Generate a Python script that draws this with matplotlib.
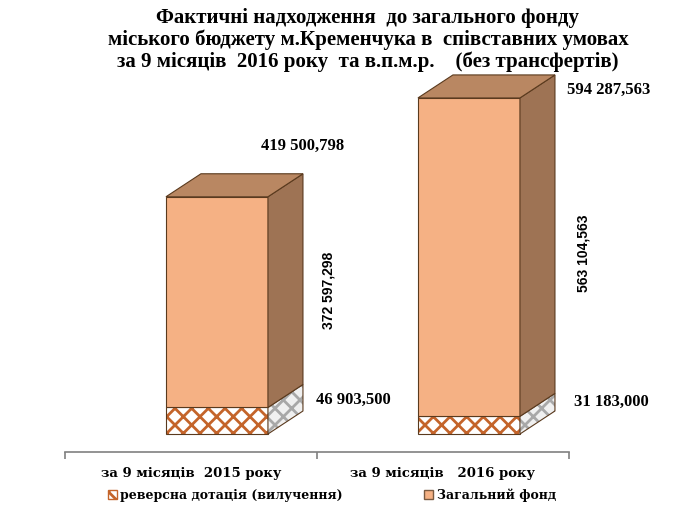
import numpy as np
import matplotlib.pyplot as plt
from matplotlib.patches import Polygon, Patch

# values in thousands UAH
categories = ['за 9 місяців  2015 року', 'за 9 місяців   2016 року']
reverse_dotation = [46903.500, 31183.000]
general_fund = [372597.298, 563104.563]
totals = [419500.798, 594287.563]

title = ('Фактичні надходження  до загального фонду\n'
         'міського бюджету м.Кременчука в  співставних умовах\n'
         'за 9 місяців  2016 року  та в.п.м.р.    (без трансфертів)')
legend_labels = ['реверсна дотація (вилучення)', 'Загальний фонд']

front_col = '#F5B184'
side_col = '#9E7354'
top_col = '#B98762'
edge_col = '#5A3A1E'
hatch_col = '#C4642A'


def fmt(v):
    return f'{v:,.3f}'.replace(',', ' ').replace('.', ',')


plt.rcParams['hatch.linewidth'] = 2.0

fig = plt.figure(figsize=(6.87, 5.28), dpi=100)
ax = fig.add_axes([65 / 687, 76 / 528, 504 / 687, 392 / 528])

ky = 0.5655e-3          # pixels per thousand
ax.set_xlim(-0.5, 1.5)
ax.set_ylim(-18 / ky, 374 / ky)

w = 102 / 252
off = 0.103
dx = 35 / 252
dy = 23 / ky

x = np.arange(len(categories)) + off
ax.bar(x, reverse_dotation, w, color='white', hatch='xx', edgecolor=hatch_col, lw=0)
ax.bar(x, reverse_dotation, w, color='none', edgecolor=edge_col, lw=0.8)
ax.bar(x, general_fund, w, bottom=reverse_dotation, color=front_col, edgecolor=edge_col, lw=0.8)

for xi, r, t in zip(x, reverse_dotation, totals):
    xl, xr = xi - w / 2, xi + w / 2
    side_low = [(xr, 0), (xr + dx, dy), (xr + dx, r + dy), (xr, r)]
    ax.add_patch(Polygon(side_low, facecolor='#F0F0F0', hatch='xx', edgecolor='#A8A8A8', lw=0))
    ax.add_patch(Polygon(side_low, facecolor='none', edgecolor=edge_col, lw=0.8))
    ax.add_patch(Polygon([(xr, r), (xr + dx, r + dy), (xr + dx, t + dy), (xr, t)],
                         facecolor=side_col, edgecolor=edge_col, lw=0.8))
    ax.add_patch(Polygon([(xl, t), (xl + dx, t + dy), (xr + dx, t + dy), (xr, t)],
                         facecolor=top_col, edgecolor=edge_col, lw=0.8))

# value labels
serif = dict(ha='center', va='center', family='Liberation Serif', weight='bold', fontsize=12)
sans = dict(ha='center', va='center', family='Liberation Sans', weight='bold', fontsize=10, rotation=90)
ax.text(0.444, (434 - 146) / ky, fmt(totals[0]), **serif)
ax.text(1.659, (434 - 90) / ky, fmt(totals[1]), **serif)
ax.text(0.544, (434 - 290) / ky, fmt(general_fund[0]), **sans)
ax.text(1.556, (434 - 253) / ky, fmt(general_fund[1]), **sans)
ax.text(0.643, (434 - 400) / ky, fmt(reverse_dotation[0]), **serif)
ax.text(1.667, (434 - 402) / ky, fmt(reverse_dotation[1]), **serif)

# axis
for s in ['left', 'right', 'top']:
    ax.spines[s].set_visible(False)
ax.spines['bottom'].set_color('#808080')
ax.spines['bottom'].set_linewidth(1.2)
ax.set_yticks([])
ax.set_xticks([-0.5, 0.5, 1.5])
ax.set_xticklabels([])
ax.tick_params(axis='x', which='major', length=5, color='#808080', width=1.2)
ax.set_xticks([0, 1], minor=True)
ax.set_xticklabels(categories, minor=True, family='DejaVu Serif', weight='bold', fontsize=9.5)
ax.tick_params(axis='x', which='minor', length=0, pad=11)

fig.text(368 / 687, 1 - 40 / 528, title, ha='center', va='center',
         family='Liberation Serif', weight='bold', fontsize=15, linespacing=1.07)

handles = [Patch(facecolor='white', hatch='xx', edgecolor=hatch_col),
           Patch(facecolor=front_col, edgecolor='#7A5A40')]
fig.legend(handles, legend_labels, ncol=2, loc='center',
           bbox_to_anchor=(332 / 687, 1 - 495 / 528), frameon=False,
           prop={'family': 'DejaVu Serif', 'weight': 'bold', 'size': 9},
           handlelength=0.7, handleheight=0.7, handletextpad=0.3, columnspacing=6.5)

fig.savefig('out.png', dpi=100)
